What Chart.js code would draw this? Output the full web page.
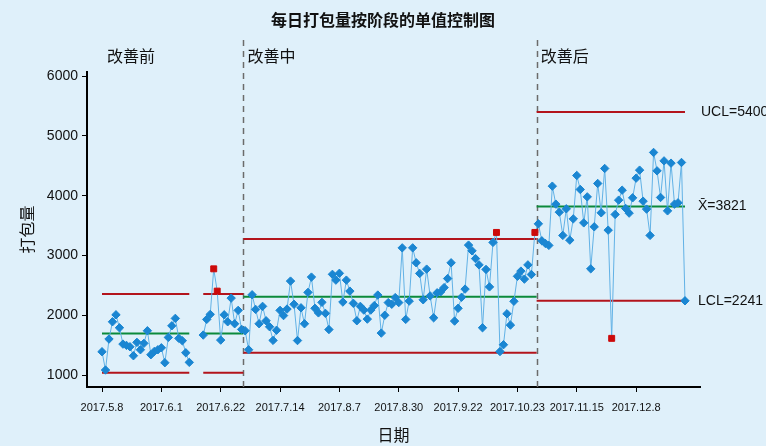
<!DOCTYPE html>
<html>
<head>
<meta charset="utf-8">
<script src="https://cdn.jsdelivr.net/npm/chart.js@4.4.0/dist/chart.umd.min.js"></script>
<style>
  html, body { margin: 0; padding: 0; background: #dff0fa; }
  #wrap { width: 766px; height: 446px; }
</style>
</head>
<body>
<div id="wrap"><canvas id="chartSpc"></canvas></div>
<script>
// x轴刻度，每17个点一个
const tickLabels = ['2017.5.8', '2017.6.1', '2017.6.22', '2017.7.14', '2017.8.7',
  '2017.8.30', '2017.9.22', '2017.10.23', '2017.11.15', '2017.12.8'];
const tickStep = 17;
const yTicks = [1000, 2000, 3000, 4000, 5000, 6000];

const phaseNames = ['改善前', '改善中', '改善后'];

// 每日打包量（null = 缺数据）
const before = [1390, 1084, 1602, 1891, 2008, 1791, 1518, 1496, 1473, 1323, 1547, 1423, 1530,
  1741, 1340, 1396, 1423, 1456, 1206, 1630, 1824, 1948, 1614, 1574, 1373, 1212,
  null, null, null,
  1669, 1931, 2015, 2777, 2404, 1585, 2008, 1891, 2287, 1858, 2082, 1764];
const during = [1741, 1423, 2343, 2098, 1858, 2149, 1908, 1808, 1580, 1749,
  2082, 1995, 2104, 2572, 2184, 1577, 2125, 1858, 2383, 2639,
  2117, 2040, 2216, 2032, 1761, 2685, 2588, 2702, 2221, 2588,
  2404, 2200, 1908, 2149, 2087, 1936, 2087, 2162, 2338, 1702,
  2000, 2212, 2184, 2296, 2212, 3128, 1931, 2237, 3128, 2878,
  2700, 2259, 2772, 2324, 1958, 2376, 2391, 2463, 2614, 2878,
  1903, 2117, 2301, 2438, 3174, 3078, 2948, 2843, 1791, 2767,
  2475, 3219, 3386, 1393, 1507, 2025, 1836, 2234, 2652, 2739,
  2605, 2843, 2682, 3386];
const after = [3530, 3246, 3202, 3169, 4160, 3859, 3725, 3336, 3781, 3257,
  3613, 4339, 4105, 3546, 3981, 2777, 3480, 4205, 3714, 4456,
  3424, 1614, 3687, 3926, 4093, 3787, 3709, 3965, 4294, 4428,
  3909, 3776, 3336, 4724, 4416, 3971, 4583, 3747, 4545, 3859,
  3881, 4556, 2242];

// 各阶段控制限
const ucl = [2354, 3274, 5400];
const cl = [1697, 2309, 3821];
const lcl = [1038, 1373, 2241];

const phases = [before, during, after];
const values = [].concat(...phases);
const phaseOf = [];
phases.forEach((arr, p) => arr.forEach(() => phaseOf.push(p)));
const starts = [];
let n = 0;
phases.forEach(arr => { starts.push(n); n += arr.length; });
const lastIdx = values.length - 1;
const bounds = starts.slice(1).map(s => s - 0.5);

function isOut(i) {
  const v = values[i], p = phaseOf[i];
  return v != null && (v > ucl[p] || v < lcl[p]);
}

// 控制限线段：按连续数据分段
function limitLine(lims) {
  const pts = [];
  phases.forEach((arr, p) => {
    let runStart = null;
    for (let k = 0; k <= arr.length; k++) {
      const has = k < arr.length && arr[k] != null;
      if (has && runStart === null) runStart = k;
      if (!has && runStart !== null) {
        let a = starts[p] + runStart, b = starts[p] + k - 1;
        if (runStart === 0 && p > 0) a -= 0.5;
        if (k === arr.length && p < phases.length - 1) b += 0.5;
        pts.push({ x: a, y: lims[p] }, { x: b, y: lims[p] }, { x: b, y: null });
        runStart = null;
      }
    }
  });
  return pts;
}

const pointBlue = '#1a86d2';
const lineBlue = '#62b2e6';
const red = '#cc0a0a';
const limitRed = '#b3141c';
const green = '#0b8a3b';
const cjk = '"Noto Sans CJK SC", sans-serif';
const latin = '"Liberation Sans", Arial, sans-serif';

const decor = {
  id: 'decor',
  beforeDraw(chart) {
    const { ctx, width, height } = chart;
    ctx.save();
    ctx.fillStyle = '#dff0fa';
    ctx.fillRect(0, 0, width, height);
    ctx.restore();
  },
  beforeDatasetsDraw(chart) {
    const { ctx, chartArea } = chart;
    const xs = chart.scales.x;
    ctx.save();
    ctx.strokeStyle = '#6b6b6b';
    ctx.lineWidth = 1.5;
    ctx.setLineDash([6, 5]);
    bounds.forEach(b => {
      const px = Math.round(xs.getPixelForValue(b)) + 0.5;
      ctx.beginPath();
      ctx.moveTo(px, 40);
      ctx.lineTo(px, chartArea.bottom);
      ctx.stroke();
    });
    ctx.restore();
  },
  afterDraw(chart) {
    const { ctx, chartArea, width } = chart;
    const xs = chart.scales.x, ys = chart.scales.y;
    ctx.save();
    ctx.fillStyle = '#111';
    ctx.textBaseline = 'middle';

    ctx.font = 'bold 16px ' + cjk;
    ctx.textAlign = 'center';
    ctx.fillText('每日打包量按阶段的单值控制图', width / 2, 20);

    ctx.font = '16px ' + cjk;
    ctx.fillText('日期', (chartArea.left + chartArea.right) / 2, 435);
    ctx.save();
    ctx.translate(27, (chartArea.top + chartArea.bottom) / 2);
    ctx.rotate(-Math.PI / 2);
    ctx.fillText('打包量', 0, 0);
    ctx.restore();

    ctx.textAlign = 'left';
    ctx.font = '16px ' + cjk;
    ctx.fillText(phaseNames[0], chartArea.left + 20, 56);
    bounds.forEach((b, k) => {
      ctx.fillText(phaseNames[k + 1], xs.getPixelForValue(b) + 4, 56);
    });

    ctx.font = '14px ' + latin;
    const last = phases.length - 1;
    const rx = chartArea.right;
    ctx.fillText('UCL=' + ucl[last], rx + 1, ys.getPixelForValue(ucl[last]));
    ctx.fillText('X\u0304=' + cl[last], rx - 2, ys.getPixelForValue(cl[last]));
    ctx.fillText('LCL=' + lcl[last], rx - 2, ys.getPixelForValue(lcl[last]));
    ctx.restore();
  }
};

const ctx = document.getElementById('chartSpc');

new Chart(ctx, {
  type: 'line',
  data: {
    datasets: [{
      label: '打包量',
      data: values.map((v, i) => ({ x: i, y: v })),
      borderColor: lineBlue,
      borderWidth: 1,
      pointStyle: c => isOut(c.dataIndex) ? 'rect' : 'rectRot',
      pointRadius: 4.2,
      pointBorderWidth: 1,
      pointBackgroundColor: c => isOut(c.dataIndex) ? red : pointBlue,
      pointBorderColor: c => isOut(c.dataIndex) ? red : pointBlue,
      spanGaps: false,
      order: 0
    }, {
      label: 'UCL',
      data: limitLine(ucl),
      borderColor: limitRed,
      borderWidth: 2,
      pointRadius: 0,
      spanGaps: false,
      order: 1
    }, {
      label: 'CL',
      data: limitLine(cl),
      borderColor: green,
      borderWidth: 2,
      pointRadius: 0,
      spanGaps: false,
      order: 1
    }, {
      label: 'LCL',
      data: limitLine(lcl),
      borderColor: limitRed,
      borderWidth: 2,
      pointRadius: 0,
      spanGaps: false,
      order: 1
    }]
  },
  options: {
    responsive: true,
    maintainAspectRatio: false,
    animation: false,
    layout: { padding: { top: 72, right: 66, bottom: 0, left: 0 } },
    plugins: {
      legend: { display: false },
      tooltip: { enabled: false }
    },
    scales: {
      x: {
        type: 'linear',
        min: -4.3,
        max: lastIdx + 4.3,
        afterBuildTicks: s => { s.ticks = tickLabels.map((_, k) => ({ value: k * tickStep })); },
        afterFit: s => { s.height = 59; },
        grid: { display: true, drawOnChartArea: false, drawTicks: true, tickLength: 5, color: '#000' },
        border: { display: true, color: '#000', width: 2 },
        ticks: {
          autoSkip: false,
          maxRotation: 0,
          padding: 9,
          color: '#111',
          font: { family: latin, size: 11 },
          callback: v => tickLabels[Math.round(v / tickStep)]
        }
      },
      y: {
        min: 800,
        max: 6070,
        afterBuildTicks: s => { s.ticks = yTicks.map(v => ({ value: v })); },
        afterFit: s => { s.width = 87; },
        grid: { display: true, drawOnChartArea: false, drawTicks: true, tickLength: 5, color: '#000' },
        border: { display: true, color: '#000', width: 2 },
        ticks: {
          padding: 4,
          color: '#111',
          font: { family: latin, size: 14 },
          callback: v => String(v)
        }
      }
    }
  },
  plugins: [decor]
});
</script>
</body>
</html>
